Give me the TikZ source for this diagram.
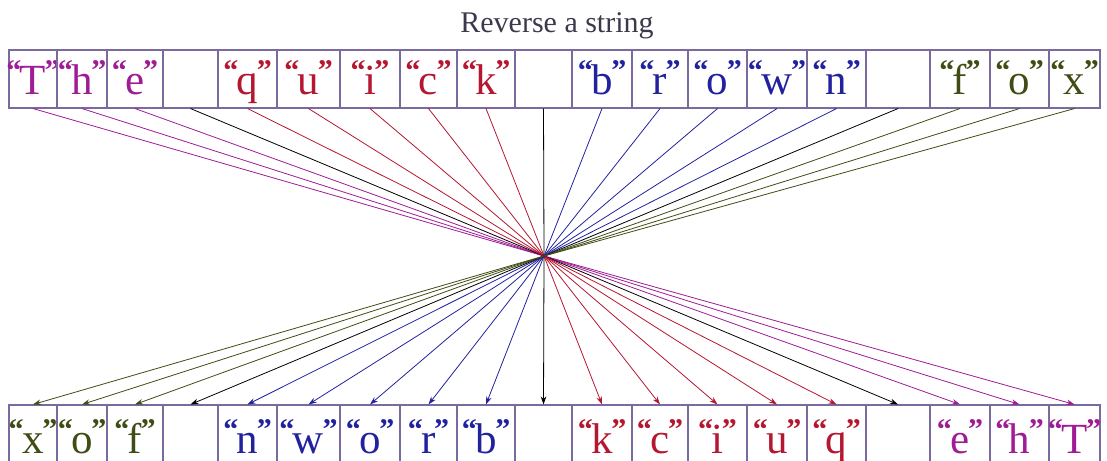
\documentclass[tikz,border=0pt]{standalone}
\usepackage{fontspec}
\setmainfont{Liberation Serif}
\usetikzlibrary{positioning,arrows.meta}
\definecolor{rmag}{HTML}{9E1C94}
\definecolor{rred}{HTML}{B51630}
\definecolor{rblue}{HTML}{22229E}
\definecolor{rolive}{HTML}{3F4C14}
\definecolor{rcell}{HTML}{7A6A9E}
\definecolor{rtitle}{HTML}{3A3A4C}
\newcommand{\qmark}[1]{\raisebox{14pt}{\fontsize{30}{30}\selectfont\bfseries#1}}
\newcommand{\qch}[1]{\qmark{“}\kern-1.5pt#1\kern-1.5pt\qmark{”}}

\begin{document}
\begin{tikzpicture}[x=1pt, y=1pt, font=\fontsize{43}{43}\selectfont,
  cell/.style={draw=rcell, line width=1.1pt, minimum height=58pt, inner ysep=0pt,
               inner xsep=-8pt, text height=38pt, text depth=6pt},
  low/.style={text height=41pt, text depth=3pt},
  link/.style={line width=0.8pt, -{Stealth[length=8pt, width=5.5pt]}},
  title/.style={font=\fontsize{30}{30}\selectfont, text=rtitle}]
  \useasboundingbox (0,0) rectangle (1107,460);
  \node[title, anchor=base] (head) at (557,427) {Reverse a string};
  % --- input string (top row)
  \foreach \i/\l/\r/\ch/\col in {0/9/57/T/rmag, 1/57/107/h/rmag, 2/107/163/e/rmag,
      3/163/218//black, 4/218/277/q/rred, 5/277/340/u/rred, 6/340/400/i/rred,
      7/400/457/c/rred, 8/457/515/k/rred, 9/515/572//black, 10/572/632/b/rblue,
      11/632/688/r/rblue, 12/688/747/o/rblue, 13/747/807/w/rblue, 14/807/866/n/rblue,
      15/866/930//black, 16/930/990/f/rolive, 17/990/1049/o/rolive, 18/1049/1100/x/rolive}{
    \pgfmathsetmacro{\w}{\r-\l}
    \node[cell, minimum width=\w pt, text=\col] (t\i) at ({(\l+\r)/2},381)
      {\ifx\ch\empty\else\qch{\ch}\fi};
  }
  % --- reversed string (bottom row)
  \foreach \i/\l/\r/\ch/\col in {0/9/57/x/rolive, 1/57/107/o/rolive, 2/107/163/f/rolive,
      3/163/218//black, 4/218/277/n/rblue, 5/277/340/w/rblue, 6/340/400/o/rblue,
      7/400/457/r/rblue, 8/457/515/b/rblue, 9/515/572//black, 10/572/632/k/rred,
      11/632/688/c/rred, 12/688/747/i/rred, 13/747/807/u/rred, 14/807/866/q/rred,
      15/866/930//black, 16/930/990/e/rmag, 17/990/1049/h/rmag, 18/1049/1100/T/rmag}{
    \pgfmathsetmacro{\w}{\r-\l}
    \node[cell, low, minimum width=\w pt, text=\col] (b\i) at ({(\l+\r)/2},26)
      {\ifx\ch\empty\else\qch{\ch}\fi};
  }
  % --- every character crosses the middle
  \coordinate (mid) at (544,204);
  \foreach \i/\col in {0/rmag, 1/rmag, 2/rmag, 3/black, 4/rred, 5/rred, 6/rred,
      7/rred, 8/rred, 9/black, 10/rblue, 11/rblue, 12/rblue, 13/rblue, 14/rblue,
      15/black, 16/rolive, 17/rolive, 18/rolive}{
    \pgfmathtruncatemacro{\j}{18-\i}
    \draw[link, draw=\col] (t\i.south) -- (mid) -- (b\j.north);
  }
\end{tikzpicture}
\end{document}
